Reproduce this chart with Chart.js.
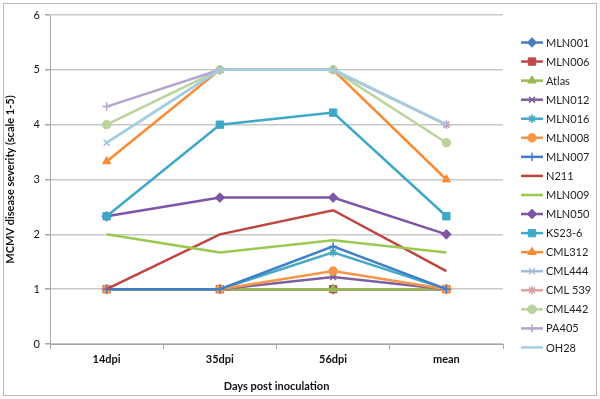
<!DOCTYPE html>
<html>
<head>
<meta charset="utf-8">
<script src="https://cdn.jsdelivr.net/npm/chart.js@4"></script>
<style>
  body { margin: 0; background: #fff; }
  #wrap { width: 600px; height: 399px; }
</style>
</head>
<body>
<div id="wrap"><canvas id="grafico" width="600" height="399"></canvas></div>
<script>
// Categorias del eje X
const dias = ['14dpi', '35dpi', '56dpi', 'mean'];

// Valores de cada linea
const mln001 = [1, 1, 1, 1];
const mln006 = [1, 1, 1, 1];
const atlas = [1, 1, 1, 1];
const mln012 = [1, 1, 1.22, 1];
const mln016 = [1, 1, 1.67, 1];
const mln008 = [1, 1, 1.33, 1];
const mln007 = [1, 1, 1.78, 1];
const n211 = [1, 2, 2.44, 1.33];
const mln009 = [2, 1.67, 1.89, 1.67];
const mln050 = [2.33, 2.67, 2.67, 2];
const ks236 = [2.33, 4, 4.22, 2.33];
const cml312 = [3.33, 5, 5, 3];
const cml444 = [3.67, 5, 5, 4];
const cml539 = [null, 5, 5, 4];
const cml442 = [4, 5, 5, 3.67];
const pa405 = [4.33, 5, 5, 4];
const oh28 = [3.67, 5, 5, 4];

const yTicks = [0, 1, 2, 3, 4, 5, 6];

// Nombre, datos, color, marcador
const series = [
    ['MLN001', mln001, '#4A7EBB', 'rectRot'],
    ['MLN006', mln006, '#BE4B48', 'rect'],
    ['Atlas', atlas, '#98B954', 'triangle'],
    ['MLN012', mln012, '#7D60A0', 'crossRot'],
    ['MLN016', mln016, '#46AAC5', 'star'],
    ['MLN008', mln008, '#F79646', 'circle'],
    ['MLN007', mln007, '#3F7FCB', 'cross'],
    ['N211', n211, '#C0453F', false],
    ['MLN009', mln009, '#9BC84E', false],
    ['MLN050', mln050, '#7E55A6', 'rectRot'],
    ['KS23-6', ks236, '#3EA8C8', 'rect'],
    ['CML312', cml312, '#F88B35', 'triangle'],
    ['CML444', cml444, '#A7BADD', 'crossRot'],
    ['CML 539', cml539, '#DDA3A2', 'star'],
    ['CML442', cml442, '#BBD49C', 'circle'],
    ['PA405', pa405, '#B5A5CD', 'cross'],
    ['OH28', oh28, '#A3CFE0', false]
];

const radios = { rect: 5.2, rectRot: 4.8, triangle: 4.8, circle: 4.3, crossRot: 4.2, star: 4.2, cross: 4.2 };
const esLinea = p => p === 'cross' || p === 'crossRot' || p === 'star';

const datasets = series.map((s, i) => ({
    label: s[0],
    data: s[1],
    borderColor: s[2],
    backgroundColor: s[2],
    borderWidth: 2.5,
    pointStyle: s[3],
    pointRadius: s[3] ? radios[s[3]] : 0,
    pointBorderWidth: esLinea(s[3]) ? 1.5 : 1,
    pointBorderColor: s[2],
    pointBackgroundColor: s[2],
    tension: 0,
    fill: false,
    spanGaps: false,
    order: series.length - i
}));

// Leyenda a la derecha con linea y marcador
const leyendaPlugin = {
    id: 'leyenda',
    afterDraw(chart) {
        const ctx = chart.ctx;
        const x0 = 521, x1 = 543, y0 = 42.5, paso = 19.06;
        ctx.save();
        series.forEach((s, i) => {
            const y = y0 + i * paso;
            ctx.strokeStyle = s[2];
            ctx.lineWidth = 2.5;
            ctx.beginPath();
            ctx.moveTo(x0, y);
            ctx.lineTo(x1, y);
            ctx.stroke();
            if (s[3]) {
                ctx.fillStyle = s[2];
                ctx.lineWidth = esLinea(s[3]) ? 1.5 : 1;
                Chart.helpers.drawPoint(ctx, { pointStyle: s[3], radius: radios[s[3]], borderWidth: ctx.lineWidth }, (x0 + x1) / 2, y);
            }
            ctx.fillStyle = '#222';
            ctx.font = '11px Lato, "Open Sans", sans-serif';
            ctx.textBaseline = 'middle';
            ctx.textAlign = 'left';
            ctx.fillText(s[0], 546, y + 0.5);
        });
        // marco exterior
        ctx.strokeStyle = '#BBBBBB';
        ctx.lineWidth = 1;
        ctx.strokeRect(3.5, 3.5, 593, 392);
        ctx.restore();
    }
};

const ctx = document.getElementById('grafico');
new Chart(ctx, {
    type: 'line',
    data: { labels: dias, datasets: datasets },
    options: {
        responsive: false,
        animation: false,
        layout: { padding: { top: 15, right: 97, bottom: 6, left: 4 } },
        plugins: {
            legend: { display: false },
            tooltip: { enabled: false }
        },
        scales: {
            x: {
                offset: true,
                grid: {
                    display: true,
                    offset: true,
                    drawOnChartArea: false,
                    drawTicks: true,
                    tickLength: 5,
                    color: '#A6A6A6'
                },
                border: { color: '#A6A6A6' },
                ticks: {
                    color: '#111',
                    font: { family: 'Lato, "Open Sans", sans-serif', size: 11, weight: 'bold' },
                    padding: 4
                },
                title: {
                    display: true,
                    text: 'Days post inoculation',
                    color: '#111',
                    font: { family: 'Lato, "Open Sans", sans-serif', size: 11, weight: 'bold' },
                    padding: { top: 4, bottom: 0 }
                },
                afterFit(scale) { scale.height = 49; }
            },
            y: {
                min: 0,
                max: 6,
                afterBuildTicks(scale) { scale.ticks = yTicks.map(v => ({ value: v })); },
                grid: {
                    color: '#C8C8C8',
                    lineWidth: 1.5,
                    tickLength: 5,
                    tickColor: '#A6A6A6'
                },
                border: { color: '#A6A6A6' },
                ticks: {
                    color: '#111',
                    font: { family: 'Lato, "Open Sans", sans-serif', size: 11 },
                    padding: 5
                },
                title: {
                    display: true,
                    text: 'MCMV disease severity (scale 1-5)',
                    color: '#111',
                    font: { family: 'Lato, "Open Sans", sans-serif', size: 11, weight: 'bold' },
                    padding: { top: 0, bottom: 4 }
                },
                afterFit(scale) { scale.width = 46; }
            }
        }
    },
    plugins: [leyendaPlugin]
});
</script>
</body>
</html>
